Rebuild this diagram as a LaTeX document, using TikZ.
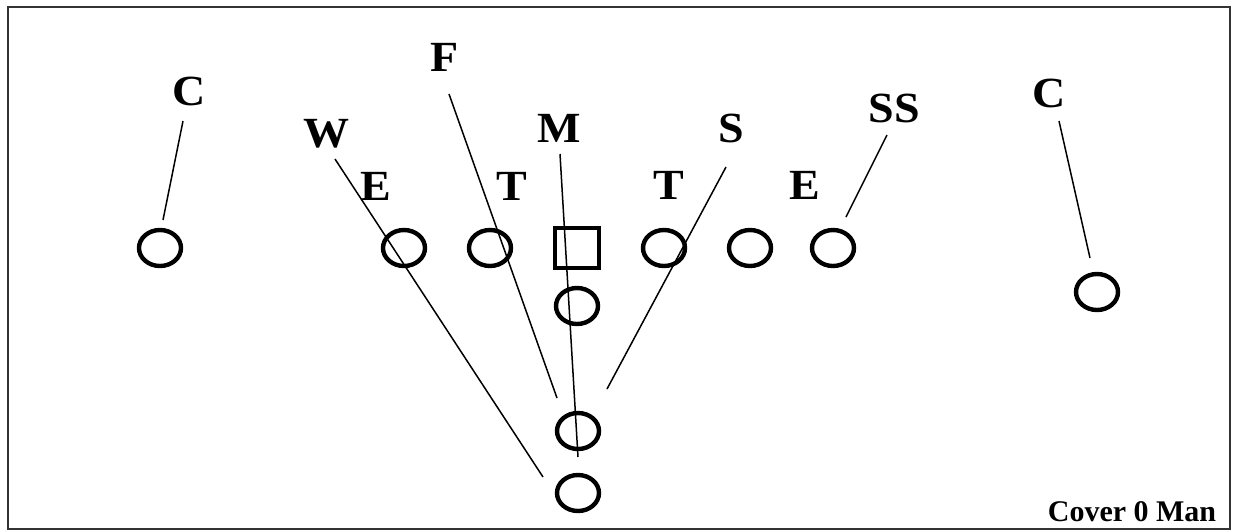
\documentclass[tikz,border=0pt]{standalone}
\usepackage{fontspec}
\setmainfont{Liberation Serif}
\usetikzlibrary{shapes.geometric}
\newcommand\widen[1]{\scalebox{1.07}[1]{#1}}
\begin{document}
\begin{tikzpicture}[x=1pt,y=-1pt,
  player/.style={draw=black, ellipse, line width=4.4pt, minimum width=42pt, minimum height=36pt, inner sep=0pt},
  center/.style={draw=black, rectangle, line width=3.6pt, minimum width=44pt, minimum height=40pt, inner sep=0pt},
  lab/.style={inner sep=0pt, font=\bfseries\fontsize{43}{43}\selectfont},
  assign/.style={draw=black, line width=1.5pt}]
\useasboundingbox (0,0) rectangle (1235,531);
\fill[white] (0,0) rectangle (1235,531);
\draw[black!80, line width=2.4pt] (8,7) rectangle (1230,529);

% offense
\node[player] (c1) at (160,248) {};
\node[player] (c2) at (404,248) {};
\node[player] (c3) at (490,248) {};
\node[center] (sq) at (577,248) {};
\node[player] (c4) at (664,248) {};
\node[player] (c5) at (750,248) {};
\node[player] (c6) at (833,248) {};
\node[player] (c7) at (1097,292) {};
\node[player] (qb) at (577,306) {};
\node[player] (rb) at (578,431) {};
\node[player] (fb) at (578,493) {};

% defense labels
\node[lab] (lCl) at (189,91) {\widen{C}};
\node[lab] (lF) at (445,57) {\widen{F}};
\node[lab] (lW) at (327,134) {\widen{W}};
\node[lab] (lM) at (559,128) {\widen{M}};
\node[lab] (lEl) at (376,186) {\widen{E}};
\node[lab] (lTl) at (512,186) {\widen{T}};
\node[lab] (lTr) at (669,185) {\widen{T}};
\node[lab] (lS) at (731,128) {\widen{S}};
\node[lab] (lEr) at (805,185) {\widen{E}};
\node[lab] (lSS) at (894,108) {\widen{SS}};
\node[lab] (lCr) at (1049,93) {\widen{C}};

\node[inner sep=0pt, font=\bfseries\fontsize{30}{30}\selectfont] (title) at (1132,512) {Cover 0 Man};

% assignment line ends
\coordinate (aCl) at (183,121); \coordinate (bCl) at (163,220);
\coordinate (aW) at (335,159);  \coordinate (bW) at (543,477);
\coordinate (aF) at (449,94);   \coordinate (bF) at (557,398);
\coordinate (aM) at (560,154);  \coordinate (bM) at (578,457);
\coordinate (aS) at (726,167);  \coordinate (bS) at (607,389);
\coordinate (aSS) at (887,135); \coordinate (bSS) at (846,217);
\coordinate (aCr) at (1059,121); \coordinate (bCr) at (1090,258);

\draw[assign] (aCl) -- (bCl);
\draw[assign] (aW) -- (bW);
\draw[assign] (aF) -- (bF);
\draw[assign] (aM) -- (bM);
\draw[assign] (aS) -- (bS);
\draw[assign] (aSS) -- (bSS);
\draw[assign] (aCr) -- (bCr);
\end{tikzpicture}
\end{document}
